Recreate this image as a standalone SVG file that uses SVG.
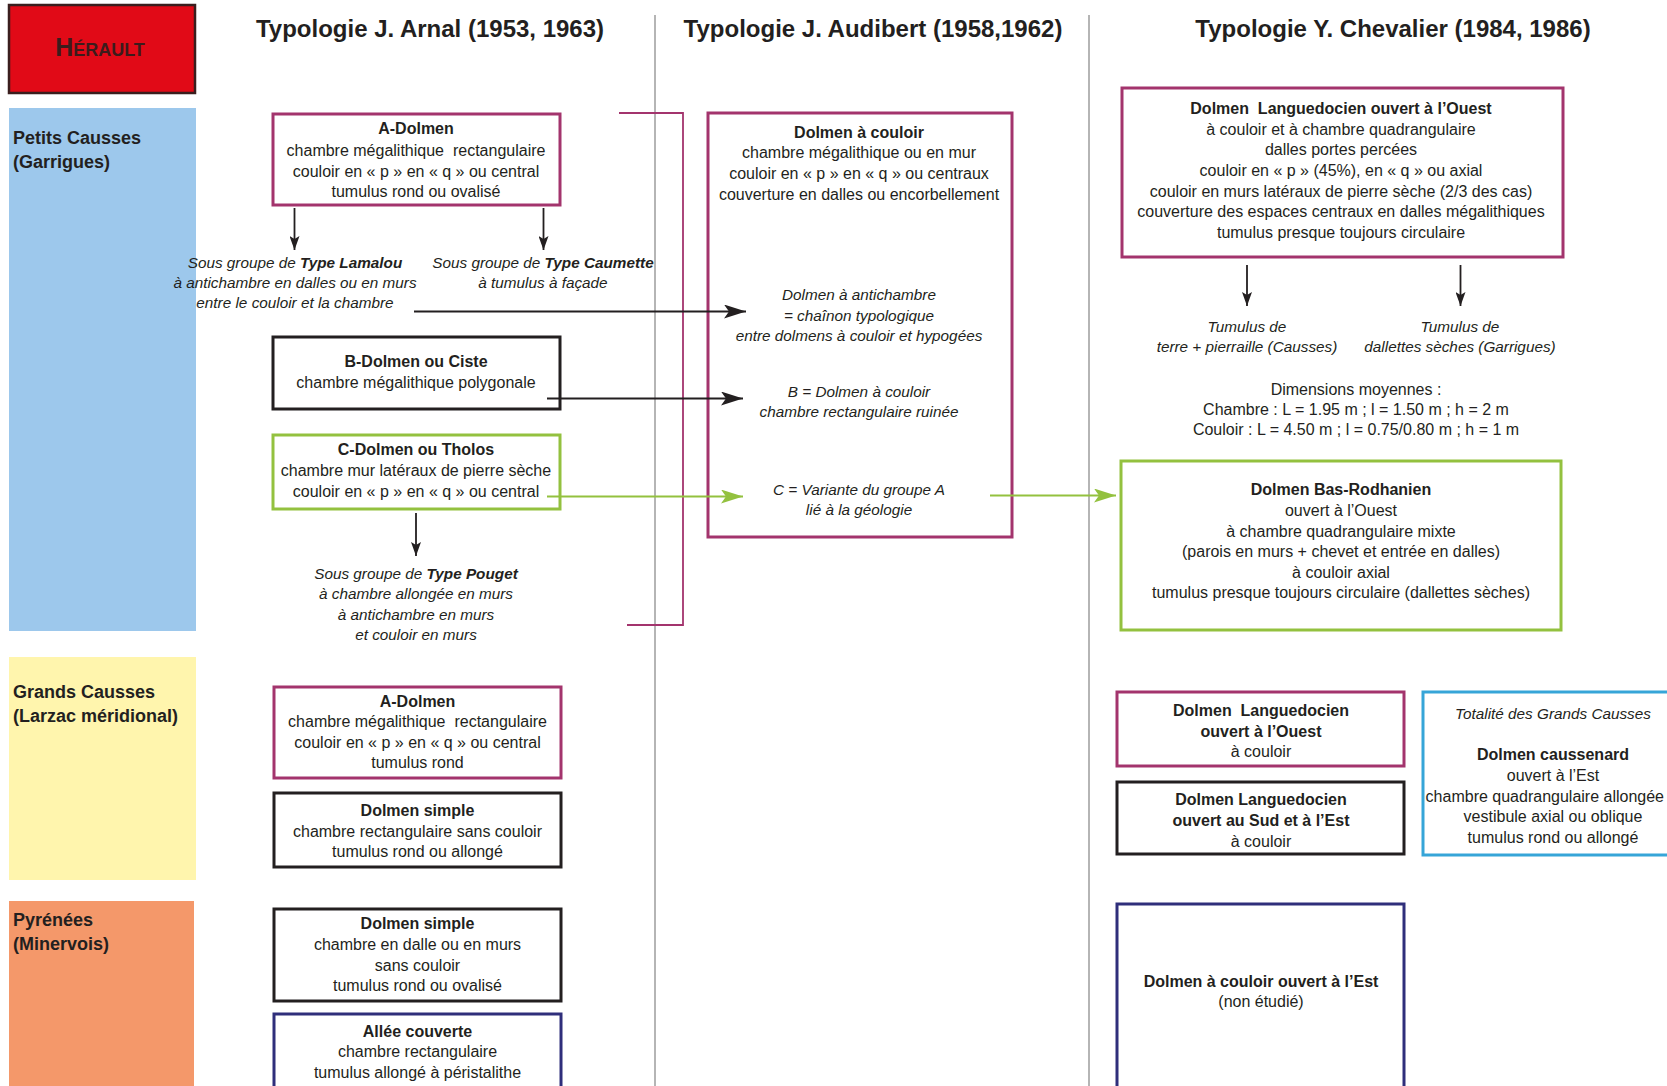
<svg xmlns="http://www.w3.org/2000/svg" width="1667" height="1086" viewBox="0 0 1667 1086">
<style>
text { font-family: "Liberation Sans", Arial, sans-serif; fill: #231f20; }
.h { font-size: 24px; font-weight: bold; text-anchor: middle; }
.lab { font-size: 18px; font-weight: bold; }
.t { font-size: 16px; text-anchor: middle; }
.b { font-weight: bold; }
.i { font-size: 15.3px; font-style: italic; text-anchor: middle; }
.box { fill: #ffffff; stroke-width: 3; }
.pur { stroke: #a3346d; }
.blk { stroke: #231f20; }
.grn { stroke: #93c13f; }
.nav { stroke: #2f2e7b; }
.cyan { stroke: #36a5d8; }
.sep { stroke: #9d9d9d; stroke-width: 1.5; }
.con { fill: none; stroke-width: 1.8; }
</style>
<defs>
<marker id="ab" viewBox="0 0 22 14" refX="22" refY="7" markerWidth="22" markerHeight="14" markerUnits="userSpaceOnUse" orient="auto">
<path d="M0,0 L22,7 L0,14 L5,7 z" fill="#231f20"/>
</marker>
<marker id="ag" viewBox="0 0 22 14" refX="22" refY="7" markerWidth="22" markerHeight="14" markerUnits="userSpaceOnUse" orient="auto">
<path d="M0,0 L22,7 L0,14 L5,7 z" fill="#93c13f"/>
</marker>
<marker id="as" viewBox="0 0 14 10" refX="14" refY="5" markerWidth="14" markerHeight="10" markerUnits="userSpaceOnUse" orient="auto">
<path d="M0,0 L14,5 L0,10 L3,5 z" fill="#231f20"/>
</marker>
</defs>
<rect x="0" y="0" width="1667" height="1086" fill="#ffffff"/>

<!-- region bands -->
<g id="herault">
<rect x="9" y="5" width="186" height="88" fill="#e10a17" stroke="#3a1e1e" stroke-width="2.5"/>
<text x="100" y="56" text-anchor="middle" font-weight="bold" style="fill:#3b1c1c"><tspan font-size="25">H</tspan><tspan font-size="18">ÉRAULT</tspan></text>
</g>
<g id="petits-causses">
<rect x="9" y="108" width="187" height="523" fill="#9dc8ec"/>
<text class="lab" x="13" y="144">Petits Causses</text>
<text class="lab" x="13" y="168">(Garrigues)</text>
</g>
<g id="grands-causses">
<rect x="9" y="657" width="187" height="223" fill="#fff5ad"/>
<text class="lab" x="13" y="698">Grands Causses</text>
<text class="lab" x="13" y="722">(Larzac méridional)</text>
</g>
<g id="pyrenees">
<rect x="9" y="901" width="185" height="185" fill="#f4986a"/>
<text class="lab" x="13" y="926">Pyrénées</text>
<text class="lab" x="13" y="950">(Minervois)</text>
</g>

<!-- headers -->
<g id="headers">
<text class="h" x="430" y="37">Typologie J. Arnal (1953, 1963)</text>
<text class="h" x="873" y="37">Typologie J. Audibert (1958,1962)</text>
<text class="h" x="1393" y="37">Typologie Y. Chevalier (1984, 1986)</text>
<line class="sep" x1="655" y1="15" x2="655" y2="1086"/>
<line class="sep" x1="1089" y1="15" x2="1089" y2="1086"/>
</g>

<!-- Arnal, Petits Causses -->
<g id="arnal-a-dolmen">
<rect class="box pur" x="273" y="114" width="287" height="91"/>
<text class="t b" x="416" y="134">A-Dolmen</text>
<text class="t" x="416" y="156">chambre mégalithique&#160; rectangulaire</text>
<text class="t" x="416" y="177">couloir en « p » en « q » ou central</text>
<text class="t" x="416" y="197">tumulus rond ou ovalisé</text>
</g>
<g id="type-lamalou">
<text class="i" x="295" y="268">Sous groupe de <tspan font-weight="bold">Type Lamalou</tspan></text>
<text class="i" x="295" y="288">à antichambre en dalles ou en murs</text>
<text class="i" x="295" y="308">entre le couloir et la chambre</text>
</g>
<g id="type-caumette">
<text class="i" x="543" y="268">Sous groupe de <tspan font-weight="bold">Type Caumette</tspan></text>
<text class="i" x="543" y="288">à tumulus à façade</text>
</g>
<g id="arnal-b-dolmen">
<rect class="box blk" x="273" y="337" width="287" height="72"/>
<text class="t b" x="416" y="367">B-Dolmen ou Ciste</text>
<text class="t" x="416" y="388">chambre mégalithique polygonale</text>
</g>
<g id="arnal-c-dolmen">
<rect class="box grn" x="273" y="435" width="287" height="74"/>
<text class="t b" x="416" y="455">C-Dolmen ou Tholos</text>
<text class="t" x="416" y="476">chambre mur latéraux de pierre sèche</text>
<text class="t" x="416" y="497">couloir en « p » en « q » ou central</text>
</g>
<g id="type-pouget">
<text class="i" x="416" y="579">Sous groupe de <tspan font-weight="bold">Type Pouget</tspan></text>
<text class="i" x="416" y="599">à chambre allongée en murs</text>
<text class="i" x="416" y="620">à antichambre en murs</text>
<text class="i" x="416" y="640">et couloir en murs</text>
</g>

<!-- Audibert -->
<g id="audibert-dolmen-couloir">
<rect class="box pur" x="708" y="113" width="304" height="424"/>
<text class="t b" x="859" y="137.5">Dolmen à couloir</text>
<text class="t" x="859" y="158">chambre mégalithique ou en mur</text>
<text class="t" x="859" y="179">couloir en « p » en « q » ou centraux</text>
<text class="t" x="859" y="199.5">couverture en dalles ou encorbellement</text>
<text class="i" x="859" y="300">Dolmen à antichambre</text>
<text class="i" x="859" y="321">= chaînon typologique</text>
<text class="i" x="859" y="341">entre dolmens à couloir et hypogées</text>
<text class="i" x="859" y="396.5">B = Dolmen à couloir</text>
<text class="i" x="859" y="417">chambre rectangulaire ruinée</text>
<text class="i" x="859" y="494.5">C = Variante du groupe A</text>
<text class="i" x="859" y="514.5">lié à la géologie</text>
</g>

<!-- Chevalier, Petits Causses -->
<g id="chevalier-languedocien-ouest">
<rect class="box pur" x="1122" y="88" width="441" height="169"/>
<text class="t b" x="1341" y="114">Dolmen&#160; Languedocien ouvert à l’Ouest</text>
<text class="t" x="1341" y="134.5">à couloir et à chambre quadrangulaire</text>
<text class="t" x="1341" y="155">dalles portes percées</text>
<text class="t" x="1341" y="176">couloir en « p » (45%), en « q » ou axial</text>
<text class="t" x="1341" y="196.7">couloir en murs latéraux de pierre sèche (2/3 des cas)</text>
<text class="t" x="1341" y="217.3">couverture des espaces centraux en dalles mégalithiques</text>
<text class="t" x="1341" y="238">tumulus presque toujours circulaire</text>
</g>
<g id="tumulus-causses">
<text class="i" x="1247" y="332">Tumulus de</text>
<text class="i" x="1247" y="352">terre + pierraille (Causses)</text>
</g>
<g id="tumulus-garrigues">
<text class="i" x="1460" y="332">Tumulus de</text>
<text class="i" x="1460" y="352">dallettes sèches (Garrigues)</text>
</g>
<g id="dimensions">
<text class="t" x="1356" y="395">Dimensions moyennes :</text>
<text class="t" x="1356" y="415">Chambre : L = 1.95 m ; l = 1.50 m ; h = 2 m</text>
<text class="t" x="1356" y="435">Couloir : L = 4.50 m ; l = 0.75/0.80 m ; h = 1 m</text>
</g>
<g id="chevalier-bas-rodhanien">
<rect class="box grn" x="1121" y="461" width="440" height="169"/>
<text class="t b" x="1341" y="495">Dolmen Bas-Rodhanien</text>
<text class="t" x="1341" y="516">ouvert à l’Ouest</text>
<text class="t" x="1341" y="536.7">à chambre quadrangulaire mixte</text>
<text class="t" x="1341" y="557.3">(parois en murs + chevet et entrée en dalles)</text>
<text class="t" x="1341" y="577.7">à couloir axial</text>
<text class="t" x="1341" y="598.3">tumulus presque toujours circulaire (dallettes sèches)</text>
</g>

<!-- Arnal, Grands Causses -->
<g id="arnal-gc-a-dolmen">
<rect class="box pur" x="274" y="687" width="287" height="91"/>
<text class="t b" x="417.5" y="706.7">A-Dolmen</text>
<text class="t" x="417.5" y="727.3">chambre mégalithique&#160; rectangulaire</text>
<text class="t" x="417.5" y="747.7">couloir en « p » en « q » ou central</text>
<text class="t" x="417.5" y="768.3">tumulus rond</text>
</g>
<g id="arnal-gc-dolmen-simple">
<rect class="box blk" x="274" y="793" width="287" height="74"/>
<text class="t b" x="417.5" y="816">Dolmen simple</text>
<text class="t" x="417.5" y="836.7">chambre rectangulaire sans couloir</text>
<text class="t" x="417.5" y="856.7">tumulus rond ou allongé</text>
</g>

<!-- Arnal, Pyrenees -->
<g id="arnal-pyr-dolmen-simple">
<rect class="box blk" x="274" y="909" width="287" height="92"/>
<text class="t b" x="417.5" y="929.3">Dolmen simple</text>
<text class="t" x="417.5" y="950">chambre en dalle ou en murs</text>
<text class="t" x="417.5" y="970.7">sans couloir</text>
<text class="t" x="417.5" y="990.7">tumulus rond ou ovalisé</text>
</g>
<g id="arnal-pyr-allee-couverte">
<rect class="box nav" x="274" y="1014" width="287" height="90"/>
<text class="t b" x="417.5" y="1036.7">Allée couverte</text>
<text class="t" x="417.5" y="1057.3">chambre rectangulaire</text>
<text class="t" x="417.5" y="1077.7">tumulus allongé à péristalithe</text>
</g>

<!-- Chevalier, Grands Causses -->
<g id="chevalier-gc-ouest">
<rect class="box pur" x="1117" y="692" width="287" height="74"/>
<text class="t b" x="1261" y="716">Dolmen&#160; Languedocien</text>
<text class="t b" x="1261" y="736.7">ouvert à l’Ouest</text>
<text class="t" x="1261" y="757.3">à couloir</text>
</g>
<g id="chevalier-gc-sud-est">
<rect class="box blk" x="1117" y="782" width="287" height="72"/>
<text class="t b" x="1261" y="805">Dolmen Languedocien</text>
<text class="t b" x="1261" y="825.7">ouvert au Sud et à l’Est</text>
<text class="t" x="1261" y="846.7">à couloir</text>
</g>
<g id="chevalier-gc-caussenard">
<rect class="box cyan" x="1423" y="692" width="260" height="163"/>
<text class="i" x="1553" y="719.3">Totalité des Grands Causses</text>
<text class="t b" x="1553" y="760">Dolmen caussenard</text>
<text class="t" x="1553" y="780.7">ouvert à l’Est</text>
<text class="t" x="1664" y="801.7" style="text-anchor:end">chambre quadrangulaire allongée</text>
<text class="t" x="1553" y="822.3">vestibule axial ou oblique</text>
<text class="t" x="1553" y="843.3">tumulus rond ou allongé</text>
</g>

<!-- Chevalier, Pyrenees -->
<g id="chevalier-pyr-est">
<rect class="box nav" x="1117" y="904" width="287" height="200"/>
<text class="t b" x="1261" y="986.7">Dolmen à couloir ouvert à l’Est</text>
<text class="t" x="1261" y="1006.7">(non étudié)</text>
</g>

<!-- connectors -->
<g id="connectors">
<path class="con" d="M619,113 H683 V625 H627" stroke="#a3346d" stroke-width="2.5"/>
<path class="con" d="M294.5,208 V250" stroke="#231f20" marker-end="url(#as)"/>
<path class="con" d="M543.5,208 V250" stroke="#231f20" marker-end="url(#as)"/>
<path class="con" d="M416,513 V556" stroke="#231f20" marker-end="url(#as)"/>
<path class="con" d="M1247,265 V306" stroke="#231f20" marker-end="url(#as)"/>
<path class="con" d="M1460.5,265 V306" stroke="#231f20" marker-end="url(#as)"/>
<path class="con" d="M414,311.5 H746" stroke="#231f20" marker-end="url(#ab)"/>
<path class="con" d="M547,398.5 H743" stroke="#231f20" marker-end="url(#ab)"/>
<path class="con" d="M547,496.5 H743" stroke="#93c13f" marker-end="url(#ag)"/>
<path class="con" d="M990,495.5 H1116" stroke="#93c13f" marker-end="url(#ag)"/>
</g>
</svg>
